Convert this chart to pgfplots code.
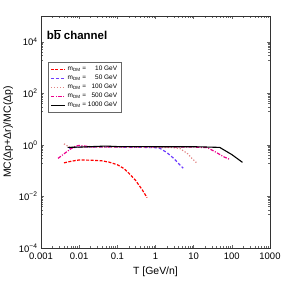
\documentclass[border=0pt]{standalone}
\usepackage{pgfplots}
\pgfplotsset{compat=1.18}
\usetikzlibrary{calc}
\usepackage{fontspec}
\setmainfont{Liberation Sans}
\definecolor{cviolet}{RGB}{110,60,255}
\definecolor{cpink}{RGB}{225,130,130}
\begin{document}
\begin{tikzpicture}
\begin{axis}[name=ax,
  scale only axis, width=229bp, height=232bp,
  xmode=log, ymode=log,
  xmin=0.001, xmax=1000, ymin=1e-4, ymax=1e5,
  xtick={0.001,0.01,0.1,1,10,100,1000},
  xticklabels={0.001,0.01,0.1,1,10,100,1000},
  ytick={1e-4,1e-2,1,1e2,1e4},
  yticklabels={{10\textsuperscript{−4}},{10\textsuperscript{−2}},{10\textsuperscript{0}},{10\textsuperscript{2}},{10\textsuperscript{4}}},
  minor ytick={2e-5,3e-5,4e-5,5e-5,6e-5,7e-5,8e-5,9e-5,2e-3,3e-3,4e-3,5e-3,6e-3,7e-3,8e-3,9e-3,0.2,0.3,0.4,0.5,0.6,0.7,0.8,0.9,20,30,40,50,60,70,80,90,2000,3000,4000,5000,6000,7000,8000,9000},
  tick align=inside, tick pos=both,
  major tick length=3bp, minor tick length=1.8bp,
  every tick/.style={black!60, thin},
  axis line style={black!80, line width=0.8pt},
  tick label style={font=\fontsize{9.5}{11}\selectfont},
  xticklabel style={yshift=-1bp},
  xlabel={T [GeV/n]}, ylabel={MC(Δp+Δr)/MC(Δp)},
  label style={font=\fontsize{10.5}{12}\selectfont},
  xlabel style={yshift=-1bp},
  ylabel style={yshift=-1bp},
  legend style={at={(0.031,0.802)}, anchor=north west, draw=black!60,
    font=\fontsize{6.5}{7.5}\selectfont, row sep=-1pt, inner sep=2pt,
    nodes={text=black}},
  legend cell align=left,
  legend image code/.code={\draw[#1] (0cm,0cm) -- (0.5cm,0cm);},
]
\addplot[draw=red, dash pattern=on 3pt off 1.5pt, line width=1.2pt] coordinates {
(0.004,0.2) (0.006,0.23) (0.01,0.26) (0.02,0.255) (0.04,0.24) (0.06,0.215) (0.1,0.17) (0.15,0.12) (0.2,0.08) (0.3,0.042) (0.45,0.018) (0.6,0.009)};
\addlegendentry{m\textsubscript{DM} =\phantom{00} 10 GeV}
\addplot[draw=cviolet, dash pattern=on 3pt off 2pt, line width=1.2pt] coordinates {
(0.0055,0.72) (0.008,0.8) (0.01,0.82) (0.03,0.82) (0.1,0.82) (0.5,0.8) (1,0.78) (1.3,0.74) (2,0.5) (3,0.3) (4,0.19) (5.3,0.125)};
\addlegendentry{m\textsubscript{DM} =\phantom{00} 50 GeV}
\addplot[draw=cpink, dash pattern=on 1.2pt off 1.8pt, line width=1.2pt] coordinates {
(0.004,1.1) (0.005,0.9) (0.006,0.8) (0.01,0.8) (0.1,0.8) (1,0.8) (3,0.78) (4.4,0.72) (7,0.45) (9,0.3) (12,0.2)};
\addlegendentry{m\textsubscript{DM} =\phantom{0} 100 GeV}
\addplot[draw=magenta, dash pattern=on 3.5pt off 1.5pt on 1pt off 1.5pt, line width=1.2pt] coordinates {
(0.0028,0.3) (0.004,0.45) (0.006,0.7) (0.008,0.9) (0.01,0.95) (0.02,0.85) (0.1,0.85) (1,0.85) (10,0.82) (23,0.78) (40,0.5) (60,0.35) (90,0.27)};
\addlegendentry{m\textsubscript{DM} =\phantom{0} 500 GeV}
\addplot[draw=black, solid, line width=1.1pt] coordinates {
(0.005,0.8) (0.01,0.82) (0.05,0.9) (0.1,0.86) (1,0.85) (10,0.85) (48,0.8) (100,0.42) (190,0.21)};
\addlegendentry{m\textsubscript{DM} = 1000 GeV}
\node[anchor=west, font=\bfseries\fontsize{11.5}{13}\selectfont] at (rel axis cs:0.01,0.92) {b$\overline{\mbox{b}}$ channel};
\end{axis}
\path ($(ax.south west)+(-41bp,-39bp)$) rectangle ($(ax.north east)+(17bp,16bp)$);
\end{tikzpicture}
\end{document}
